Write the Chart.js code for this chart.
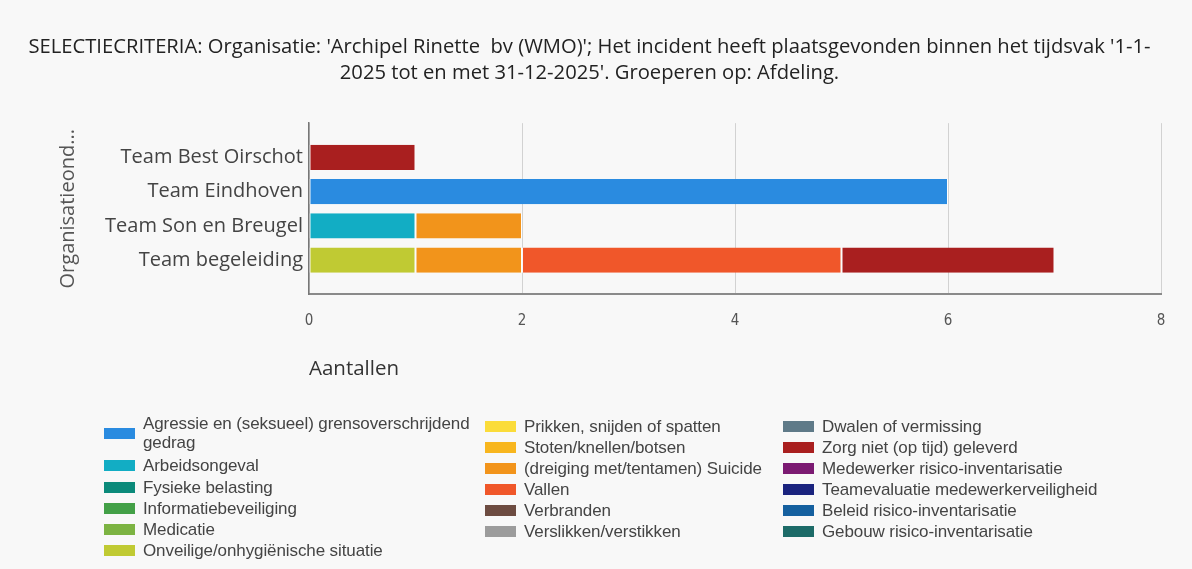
<!DOCTYPE html>
<html>
<head>
<meta charset="utf-8">
<script src="https://cdn.jsdelivr.net/npm/chart.js@4.4.1/dist/chart.umd.min.js"></script>
<style>
  html, body { margin: 0; padding: 0; background: #f8f8f8; }
  #wrap { position: relative; width: 1192px; height: 569px; }
  #legend { position: absolute; left: 0; top: 0; width: 1192px; height: 569px; pointer-events: none;
    font-family: "Liberation Sans", Arial, sans-serif; font-size: 17px; color: #444; letter-spacing: -0.1px; }
  .item { position: absolute; display: flex; align-items: center; line-height: 19px; white-space: nowrap; }
  .swatch { width: 31px; height: 11px; margin-right: 8px; flex: none; }
</style>
</head>
<body>
<div id="wrap">
  <canvas id="chart" width="1192" height="569"></canvas>
  <div id="legend"></div>
</div>
<script>
const teams = ['Team Best Oirschot', 'Team Eindhoven', 'Team Son en Breugel', 'Team begeleiding']

const seriesNames = [
  'Agressie en (seksueel) grensoverschrijdend gedrag',
  'Arbeidsongeval',
  'Fysieke belasting',
  'Informatiebeveiliging',
  'Medicatie',
  'Onveilige/onhygiënische situatie',
  'Prikken, snijden of spatten',
  'Stoten/knellen/botsen',
  '(dreiging met/tentamen) Suicide',
  'Vallen',
  'Verbranden',
  'Verslikken/verstikken',
  'Dwalen of vermissing',
  'Zorg niet (op tijd) geleverd',
  'Medewerker risico-inventarisatie',
  'Teamevaluatie medewerkerveiligheid',
  'Beleid risico-inventarisatie',
  'Gebouw risico-inventarisatie'
]

const seriesColors = [
  '#2a8be0', '#12adc4', '#0b8a7a', '#43a047', '#7cb342', '#c0ca33',
  '#fbdc3a', '#f8b61e', '#f2941b', '#f0572a', '#6d4c41', '#9c9c9c',
  '#5f7a88', '#a91f1f', '#7b1a72', '#1a237e', '#15609f', '#1d6b68'
]

// counts per team, in the order of teams
const agressie = [null, 6, null, null]
const arbeidsongeval = [null, null, 1, null]
const onveilig = [null, null, null, 1]
const suicide = [null, null, 1, 1]
const vallen = [null, null, null, 3]
const zorgNiet = [1, null, null, 2]
const empty = [null, null, null, null]

const seriesValues = [
  agressie, arbeidsongeval, empty, empty, empty, onveilig,
  empty, empty, suicide, vallen, empty, empty,
  empty, zorgNiet, empty, empty, empty, empty
]

const xTicks = [0, 2, 4, 6, 8]

// one blank slot above and below the teams, like the original
const labels = [''].concat(teams, [''])
const pad = (arr) => [null].concat(arr, [null])

const datasets = seriesNames.map((name, i) => ({
  label: name,
  data: pad(seriesValues[i]),
  backgroundColor: seriesColors[i],
  borderColor: 'rgba(255,255,255,0.85)',
  borderWidth: { left: 1, right: 1, top: 0, bottom: 0 },
  borderSkipped: false,
  categoryPercentage: 1,
  barPercentage: 0.74
}))

const leftPad = 18

new Chart(document.getElementById('chart'), {
  type: 'bar',
  data: { labels, datasets },
  options: {
    indexAxis: 'y',
    responsive: false,
    animation: false,
    layout: { padding: { left: leftPad, right: 31, top: 0, bottom: 188 } },
    plugins: {
      legend: { display: false },
      tooltip: { enabled: false },
      title: {
        display: true,
        text: [
          "SELECTIECRITERIA: Organisatie: 'Archipel Rinette  bv (WMO)'; Het incident heeft plaatsgevonden binnen het tijdsvak '1-1-",
          "2025 tot en met 31-12-2025'. Groeperen op: Afdeling."
        ],
        color: '#222',
        font: { family: 'Open Sans', size: 20.2, weight: 'normal', lineHeight: 1.29 },
        padding: { top: 34, bottom: 37 }
      }
    },
    scales: {
      x: {
        stacked: true,
        min: 0,
        max: 8,
        afterBuildTicks: (scale) => { scale.ticks = xTicks.map(v => ({ value: v })) },
        grid: { color: '#d2d2d2', lineWidth: 1, drawTicks: false },
        border: { display: true, color: '#8a8a8a', width: 2 },
        ticks: { color: '#555', padding: 18, font: { family: 'DejaVu Sans Condensed', size: 15 } },
        title: {
          display: true,
          text: 'Aantallen',
          align: 'start',
          color: '#333',
          font: { family: 'Open Sans', size: 20.5 },
          padding: { top: 8, bottom: 0 }
        }
      },
      y: {
        stacked: true,
        offset: false,
        grid: { display: false, drawTicks: false },
        border: { display: true, color: '#777', width: 1.5 },
        ticks: { color: '#444', padding: 6, autoSkip: false, font: { family: 'Open Sans', size: 20 } },
        title: {
          display: true,
          text: 'Organisatieond...',
          color: '#555',
          font: { family: 'Open Sans', size: 20 },
          padding: { top: 56 - leftPad, bottom: 0 }
        },
        afterFit: (scale) => { scale.width = 309 - leftPad }
      }
    }
  }
})

// legend in three columns of six, like the original
const legendEl = document.getElementById('legend')
const colX = [104, 485, 783]
const rowY = [
  [433, 465, 487, 508, 529, 550],
  [426, 447, 468, 489, 510, 531],
  [426, 447, 468, 489, 510, 531]
]
seriesNames.forEach((name, i) => {
  const col = Math.floor(i / 6)
  const row = i % 6
  const item = document.createElement('div')
  item.className = 'item'
  item.style.left = colX[col] + 'px'
  const sw = document.createElement('span')
  sw.className = 'swatch'
  sw.style.background = seriesColors[i]
  const txt = document.createElement('span')
  if (i === 0) {
    txt.innerHTML = 'Agressie en (seksueel) grensoverschrijdend<br>gedrag'
  } else {
    txt.textContent = name
  }
  item.appendChild(sw)
  item.appendChild(txt)
  legendEl.appendChild(item)
  item.style.top = (rowY[col][row] - item.offsetHeight / 2) + 'px'
})
</script>
</body>
</html>
